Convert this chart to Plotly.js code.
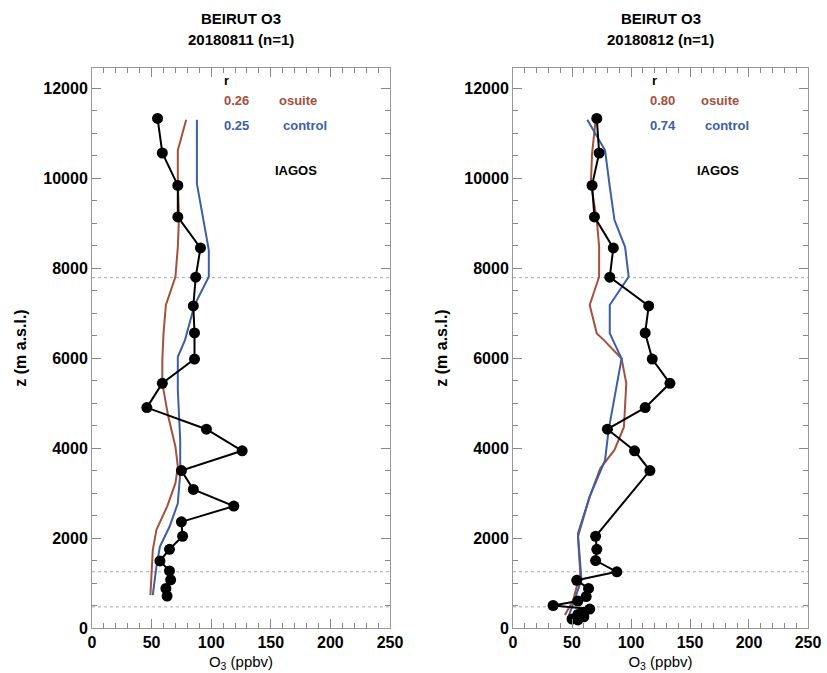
<!DOCTYPE html>
<html>
<head>
<meta charset="utf-8">
<script src="https://cdn.plot.ly/plotly-3.0.1.min.js"></script>
<style>html,body{margin:0;padding:0;background:#fff;}#chart{width:827px;height:673px;}</style>
</head>
<body>
<div id="chart"></div>
<script>
// ---- Panel 1: 20180811 ----
const iagos1_o3 = [55, 59, 72, 72, 91, 87, 85, 86, 86, 59, 46, 96, 126, 75, 85, 119, 75, 76, 65, 57, 65, 66, 62, 63];
const iagos1_z  = [11330, 10560, 9840, 9140, 8450, 7800, 7160, 6560, 5980, 5440, 4900, 4420, 3940, 3500, 3080, 2710, 2360, 2040, 1750, 1490, 1270, 1070, 880, 710];
const osuite1_o3 = [79, 72, 72, 73, 72, 70, 62, 60, 59, 59, 64, 70, 72, 70, 63, 54, 51, 50, 49];
const osuite1_z  = [11300, 10620, 9880, 9140, 8470, 7810, 7180, 6550, 5960, 5440, 4700, 4030, 3590, 3220, 2700, 2180, 1730, 1220, 730];
const control1_o3 = [88, 88, 98, 98, 86, 78, 72, 72, 74, 74, 72, 65, 57, 54, 51];
const control1_z  = [11300, 9880, 8400, 7810, 7180, 6400, 6030, 5290, 4180, 3440, 2770, 2250, 1810, 1360, 730];

// ---- Panel 2: 20180812 ----
const iagos2_o3 = [71, 73, 67, 69, 85, 82, 115, 112, 118, 133, 112, 80, 103, 116, 70, 71, 70, 88, 54, 64, 62, 55, 34, 65, 60, 55, 60, 50, 55];
const iagos2_z  = [11330, 10560, 9840, 9140, 8450, 7800, 7160, 6560, 5980, 5440, 4900, 4420, 3940, 3500, 2040, 1750, 1500, 1250, 1060, 880, 700, 600, 500, 420, 350, 300, 250, 200, 180];
const osuite2_o3 = [70, 67, 66, 71, 73, 73, 65, 71, 77, 92, 96, 94, 86, 74, 65, 55, 57, 51, 44];
const osuite2_z  = [11290, 10550, 9880, 9070, 8470, 7810, 7180, 6550, 6400, 5990, 5440, 4470, 3960, 3550, 2920, 2030, 1220, 620, 290];
const control2_o3 = [63, 78, 82, 86, 95, 98, 82, 82, 92, 85, 81, 78, 65, 55, 58, 50, 47];
const control2_z  = [11300, 10620, 9810, 9070, 8470, 7810, 7180, 6550, 5990, 4920, 4400, 3730, 2920, 2100, 1070, 470, 250];

// ---- Shared ----
const dashedLevels = [7790, 1250, 470];
const titleLine1 = ["BEIRUT O3", "BEIRUT O3"];
const titleLine2 = ["20180811 (n=1)", "20180812 (n=1)"];
const rOsuite = ["0.26", "0.80"];
const rControl = ["0.25", "0.74"];
const xTicks = [0, 50, 100, 150, 200, 250];
const yTicks = [0, 2000, 4000, 6000, 8000, 10000, 12000];

const RED = '#a4503b';
const BLUE = '#3b5fa6';
const FONT = 'Liberation Sans, Arial, sans-serif';

function line(x, y, color, xa, ya) {
  return {x: x, y: y, type: 'scatter', mode: 'lines', xaxis: xa, yaxis: ya,
          line: {color: color, width: 2}, showlegend: false, hoverinfo: 'skip'};
}
function pts(x, y, xa, ya) {
  return {x: x, y: y, type: 'scatter', mode: 'lines+markers', xaxis: xa, yaxis: ya,
          line: {color: '#000', width: 2}, marker: {color: '#000', size: 11},
          showlegend: false, hoverinfo: 'skip'};
}

const data = [
  line(osuite1_o3, osuite1_z, RED, 'x', 'y'),
  line(control1_o3, control1_z, BLUE, 'x', 'y'),
  pts(iagos1_o3, iagos1_z, 'x', 'y'),
  line(osuite2_o3, osuite2_z, RED, 'x2', 'y2'),
  line(control2_o3, control2_z, BLUE, 'x2', 'y2'),
  pts(iagos2_o3, iagos2_z, 'x2', 'y2')
];

function xax(domain, anchor) {
  return {domain: domain, anchor: anchor, range: [0, 250], tickvals: xTicks,
    ticktext: xTicks.map(String), ticks: 'inside', ticklen: 9, tickcolor: '#888',
    tickwidth: 1, showline: true, linecolor: '#999', linewidth: 1, mirror: 'ticks',
    showgrid: false, zeroline: false,
    minor: {dtick: 10, ticks: 'inside', ticklen: 5, tickcolor: '#888', showgrid: false},
    tickfont: {family: FONT, size: 16, color: '#000', weight: 'bold'},
    title: {text: 'O<sub>3</sub> (ppbv)', font: {family: FONT, size: 15, color: '#000'}, standoff: 6}};
}
function yax(anchor) {
  return {domain: [0, 1], anchor: anchor, range: [0, 12450], tickvals: yTicks,
    ticktext: yTicks.map(String), ticks: 'inside', ticklen: 9, tickcolor: '#888',
    tickwidth: 1, showline: true, linecolor: '#999', linewidth: 1, mirror: 'ticks',
    showgrid: false, zeroline: false,
    minor: {dtick: 500, ticks: 'inside', ticklen: 5, tickcolor: '#888', showgrid: false},
    tickfont: {family: FONT, size: 16, color: '#000', weight: 'bold'},
    title: {text: 'z (m a.s.l.)', font: {family: FONT, size: 16, color: '#000', weight: 'bold'}, standoff: 12}};
}

const shapes = [];
[['x', 'y'], ['x2', 'y2']].forEach(function (ax) {
  dashedLevels.forEach(function (lv) {
    shapes.push({type: 'line', xref: ax[0] + ' domain', yref: ax[1], x0: 0, x1: 1, y0: lv, y1: lv,
      line: {color: '#aaa', width: 1, dash: 'dot'}, layer: 'below'});
  });
});

const annotations = [];
const panels = [
  {xa: 'x', ya: 'y', cx: 0.2081, rx: 113, nx: 121.5, lx: 173, cxl: 179},
  {xa: 'x2', ya: 'y2', cx: 0.794, rx: 120, nx: 127, lx: 175.5, cxl: 181.5}
];
panels.forEach(function (p, i) {
  annotations.push({xref: 'paper', yref: 'paper', x: p.cx, y: 1.089, text: '<b>' + titleLine1[i] + '</b>',
    showarrow: false, font: {family: FONT, size: 15, color: '#000'}, xanchor: 'center', yanchor: 'middle'});
  annotations.push({xref: 'paper', yref: 'paper', x: p.cx, y: 1.05, text: '<b>' + titleLine2[i] + '</b>',
    showarrow: false, font: {family: FONT, size: 15, color: '#000'}, xanchor: 'center', yanchor: 'middle'});
  const f = function (c) { return {family: FONT, size: 13, color: c, weight: 'bold'}; };
  annotations.push({xref: p.xa, yref: p.ya, x: p.rx, y: 12180, text: 'r', showarrow: false, font: f('#000')});
  annotations.push({xref: p.xa, yref: p.ya, x: p.nx, y: 11730, text: rOsuite[i], showarrow: false, font: f(RED)});
  annotations.push({xref: p.xa, yref: p.ya, x: p.lx, y: 11730, text: 'osuite', showarrow: false, font: f(RED)});
  annotations.push({xref: p.xa, yref: p.ya, x: p.nx, y: 11180, text: rControl[i], showarrow: false, font: f(BLUE)});
  annotations.push({xref: p.xa, yref: p.ya, x: p.cxl, y: 11180, text: 'control', showarrow: false, font: f(BLUE)});
  annotations.push({xref: p.xa, yref: p.ya, x: p.lx - 2, y: 10180, text: 'IAGOS', showarrow: false, font: f('#000')});
});

const layout = {
  width: 827, height: 673,
  margin: {l: 92, r: 19, t: 68, b: 45},
  paper_bgcolor: '#fff', plot_bgcolor: '#fff',
  showlegend: false,
  xaxis: xax([0, 0.4162], 'y'),
  yaxis: yax('x'),
  xaxis2: xax([0.588, 1], 'y2'),
  yaxis2: yax('x2'),
  shapes: shapes,
  annotations: annotations,
  font: {family: FONT}
};

Plotly.newPlot('chart', data, layout, {displayModeBar: false, staticPlot: true});
</script>
</body>
</html>
